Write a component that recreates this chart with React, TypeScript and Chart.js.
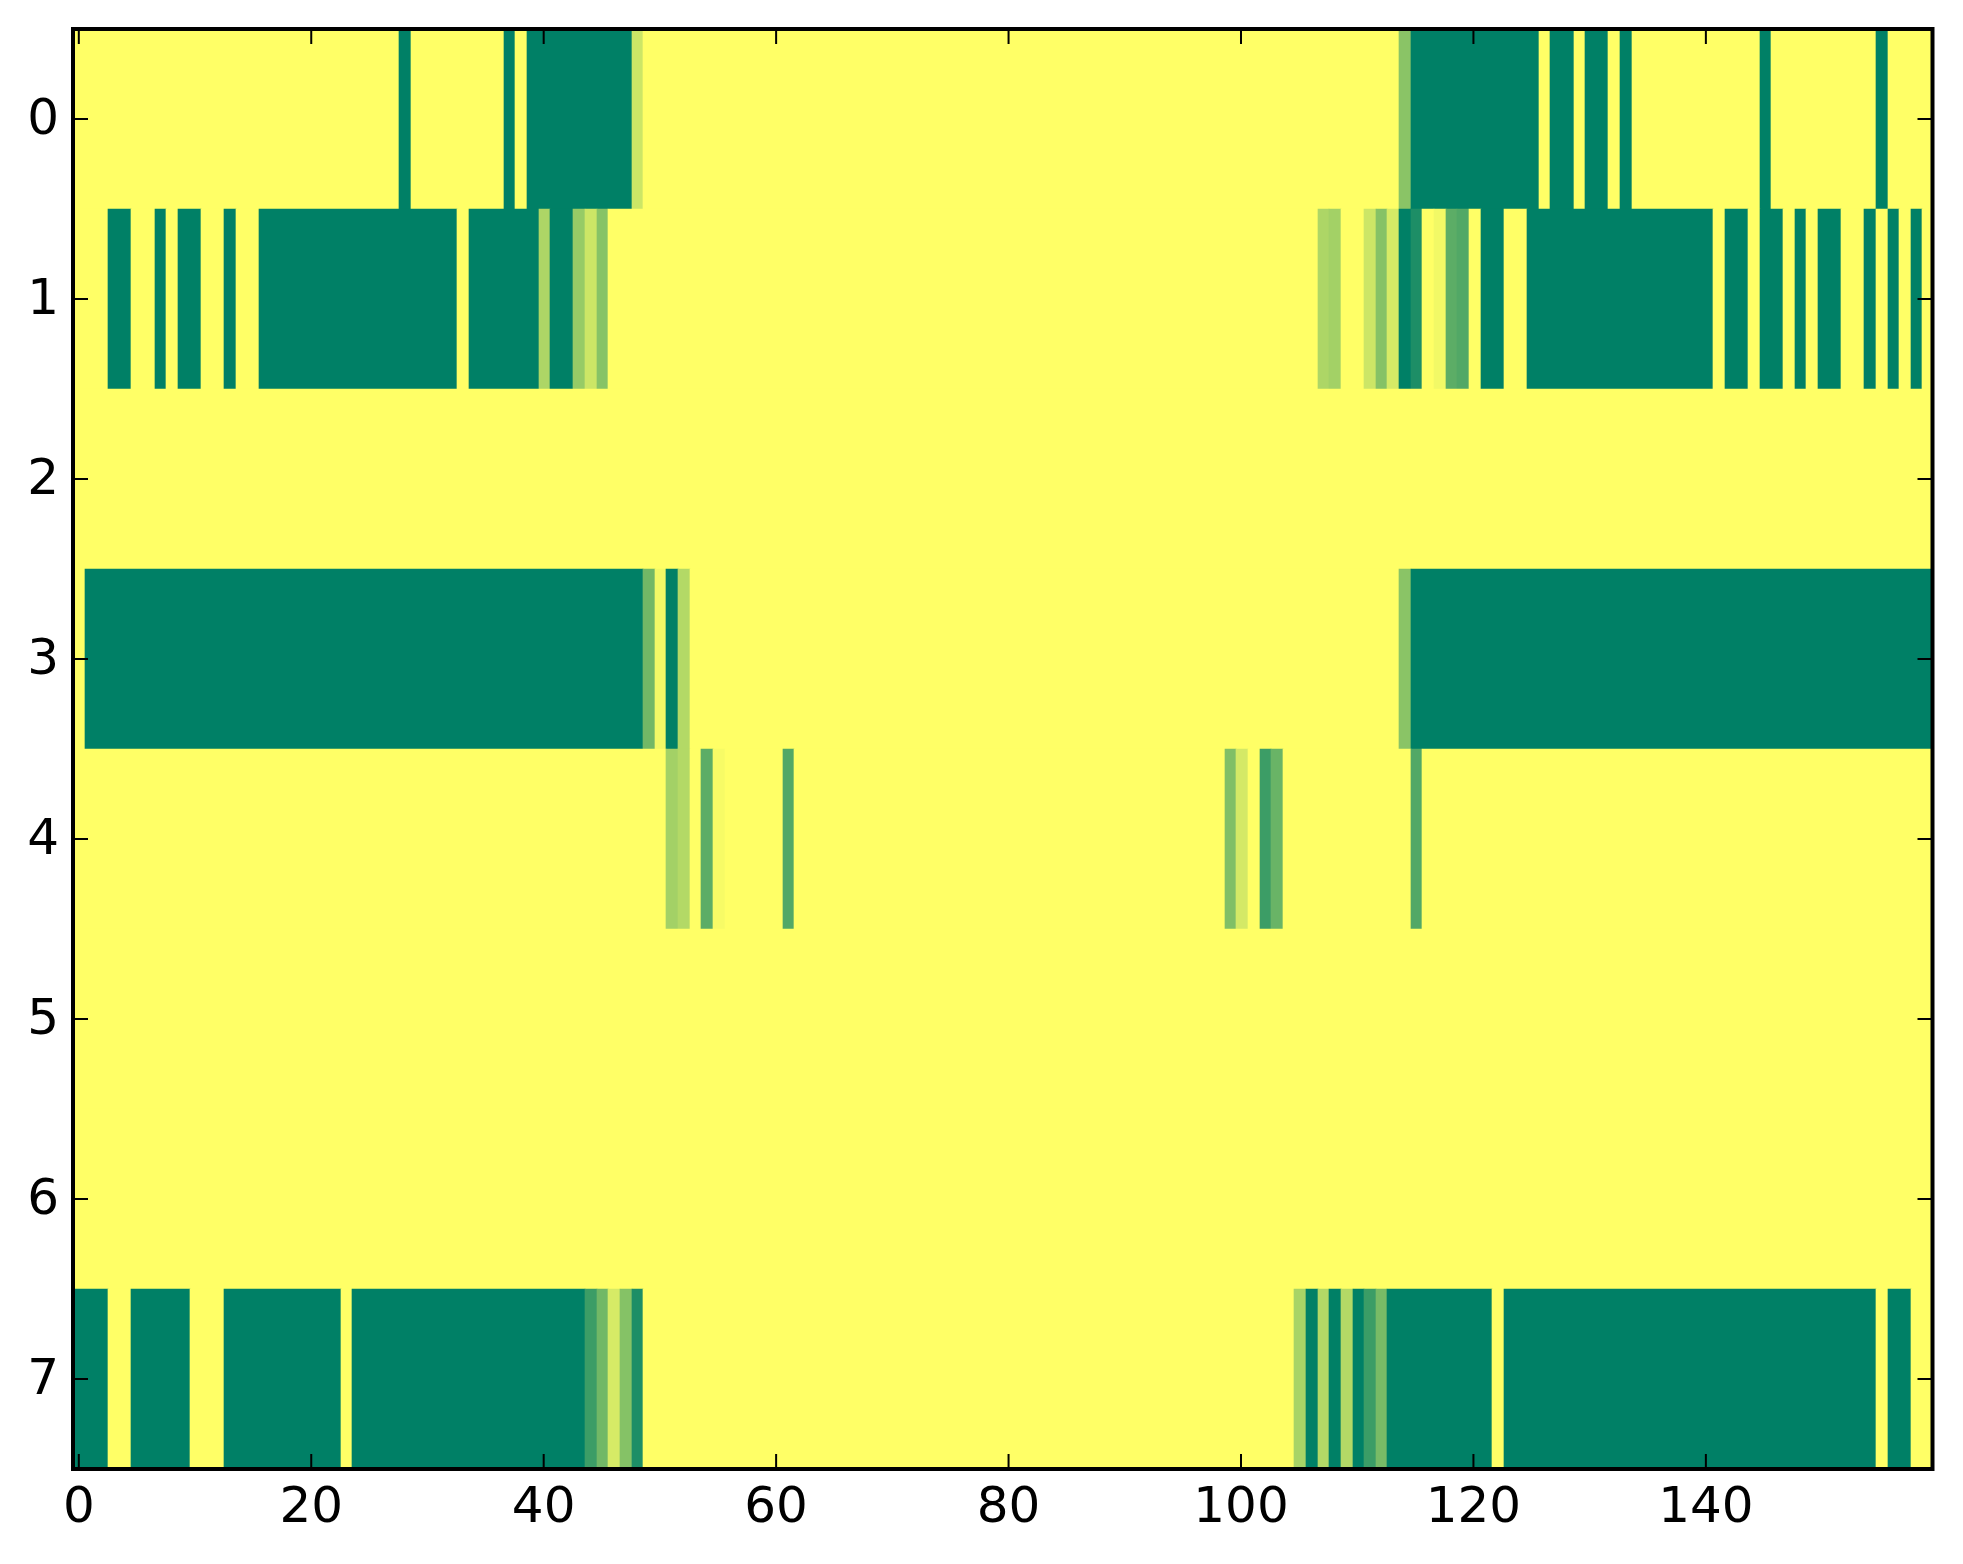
import React, { useEffect, useRef } from "react";
import { Chart, registerables } from "chart.js";

Chart.register(...registerables);

const columnCount = 160;
const xTickValues = [0, 20, 40, 60, 80, 100, 120, 140];
const yTickValues = [0, 1, 2, 3, 4, 5, 6, 7];

// Each run: [first column, last column, value]; every other column of the row is 0.
const row0 = [
  [28, 28, 1], [37, 37, 1], [39, 47, 1], [48, 48, 0.2], [114, 114, 0.46], [115, 125, 1],
  [127, 128, 1], [130, 131, 1], [133, 133, 1], [145, 145, 1], [155, 155, 1],
];
const row1 = [
  [3, 4, 1], [7, 7, 1], [9, 10, 1], [13, 13, 1], [16, 32, 1], [34, 39, 1], [40, 40, 0.32],
  [41, 42, 1], [43, 43, 0.41], [44, 44, 0.2], [45, 45, 0.47], [107, 107, 0.32], [108, 108, 0.36],
  [111, 111, 0.2], [112, 112, 0.48], [113, 113, 0.16], [114, 114, 1], [115, 115, 0.886],
  [117, 117, 0.05], [118, 118, 0.64], [119, 119, 0.68], [121, 122, 1], [125, 140, 1],
  [142, 143, 1], [145, 146, 1], [148, 148, 1], [150, 151, 1], [154, 154, 1], [156, 156, 1], [158, 158, 1],
];
const row2: number[][] = [];
const row3 = [
  [1, 48, 1], [49, 49, 0.553], [50, 50, 0.05], [51, 51, 1], [52, 52, 0.3], [114, 114, 0.46], [115, 159, 1],
];
const row4 = [
  [51, 51, 0.36], [52, 52, 0.3], [54, 54, 0.64], [55, 55, 0.03], [61, 61, 0.68], [99, 99, 0.5],
  [100, 100, 0.17], [102, 102, 0.765], [103, 103, 0.59], [115, 115, 0.68],
];
const row5: number[][] = [];
const row6: number[][] = [];
const row7 = [
  [0, 2, 1], [5, 9, 1], [13, 22, 1], [24, 43, 1], [44, 44, 0.765], [45, 45, 0.553], [46, 46, 0.16],
  [47, 47, 0.48], [48, 48, 0.886], [105, 105, 0.34], [106, 106, 1], [107, 107, 0.3], [108, 108, 1],
  [109, 109, 0.3], [110, 110, 1], [111, 111, 0.77], [112, 112, 0.53], [113, 121, 1], [123, 154, 1], [156, 157, 1],
];
const rows = [row0, row1, row2, row3, row4, row5, row6, row7];

// matplotlib "summer_r" colormap
const summerR = (t: number) =>
  `rgb(${Math.round(255 * (1 - t))},${Math.round(255 * (1 - 0.5 * t))},102)`;

type Bar = { x: [number, number]; y: number; v: number };

const buildBars = (): Bar[] => {
  const bars: Bar[] = [];
  rows.forEach((runs, y) => {
    const cells = new Array(columnCount).fill(0);
    runs.forEach(([a, b, v]) => {
      for (let c = a; c <= b; c++) cells[c] = v;
    });
    let start = 0;
    for (let c = 1; c <= columnCount; c++) {
      if (c === columnCount || cells[c] !== cells[start]) {
        bars.push({ x: [start - 0.5, c - 0.5], y, v: cells[start] });
        start = c;
      }
    }
  });
  return bars;
};

// Image cells land on whole pixels, as a raster image does; the raster is a hair wider than the axes.
const snapBars = {
  id: "snapBars",
  afterDatasetsUpdate(chart: any) {
    const left = chart.chartArea.left;
    const snap = (p: number) => Math.round(p + 0.3 + (p - left) * 0.0007);
    chart.getDatasetMeta(0).data.forEach((el: any) => {
      el.x = snap(el.x);
      el.base = snap(el.base);
    });
  },
};

const frame = {
  id: "frame",
  afterDatasetsDraw(chart: any) {
    const { ctx, chartArea: a, scales } = chart;
    const len = 15;
    ctx.save();
    ctx.strokeStyle = "#000";
    ctx.lineWidth = 2;
    ctx.beginPath();
    xTickValues.forEach((v) => {
      const p = scales.x.getPixelForValue(v);
      ctx.moveTo(p, a.top);
      ctx.lineTo(p, a.top + len);
      ctx.moveTo(p, a.bottom);
      ctx.lineTo(p, a.bottom - len);
    });
    yTickValues.forEach((v) => {
      const p = scales.y.getPixelForValue(v);
      ctx.moveTo(a.left, p);
      ctx.lineTo(a.left + len, p);
      ctx.moveTo(a.right, p);
      ctx.lineTo(a.right - len, p);
    });
    ctx.stroke();
    ctx.lineWidth = 4;
    ctx.lineJoin = "miter";
    ctx.strokeRect(a.left, a.top, a.right - a.left, a.bottom - a.top);
    ctx.restore();
  },
};

const tickFont = { family: "'DejaVu Sans'", size: 50 };

export default function App() {
  const ref = useRef<HTMLCanvasElement | null>(null);
  useEffect(() => {
    if (!ref.current) return;
    const bars = buildBars();
    const chart = new Chart(ref.current, {
      type: "bar",
      data: {
        datasets: [
          {
            data: bars as any,
            backgroundColor: bars.map((b) => summerR(b.v)),
            borderWidth: 0,
            borderSkipped: false,
            barPercentage: 1,
            categoryPercentage: 1,
          },
        ],
      },
      plugins: [snapBars, frame],
      options: {
        indexAxis: "y",
        animation: false,
        responsive: false,
        devicePixelRatio: 1,
        layout: { padding: { top: 29, right: 30.5, left: 0, bottom: 0 } },
        plugins: { legend: { display: false }, tooltip: { enabled: false } },
        scales: {
          x: {
            type: "linear",
            position: "bottom",
            min: -0.5,
            max: 159.5,
            grid: { display: false, drawTicks: false },
            border: { display: false },
            afterBuildTicks: (s: any) => {
              s.ticks = xTickValues.map((value) => ({ value }));
            },
            afterFit: (s: any) => {
              s.height = 95;
              s.paddingLeft = 0;
              s.paddingRight = 0;
            },
            ticks: {
              color: "#000",
              font: tickFont,
              padding: 10,
              maxRotation: 0,
              autoSkip: false,
            },
          },
          y: {
            type: "linear",
            position: "left",
            reverse: true,
            offset: false,
            min: -0.5,
            max: 7.5,
            grid: { display: false, offset: false, drawTicks: false },
            border: { display: false },
            afterBuildTicks: (s: any) => {
              s.ticks = yTickValues.map((value) => ({ value }));
            },
            afterFit: (s: any) => {
              s.width = 73;
              s.paddingTop = 0;
              s.paddingBottom = 0;
            },
            ticks: {
              color: "#000",
              font: tickFont,
              padding: 14,
              labelOffset: 2,
              autoSkip: false,
            },
          },
        },
      } as any,
    });
    return () => chart.destroy();
  }, []);
  return (
    <div style={{ position: "absolute", left: 0, top: 0, width: 1963, height: 1564, background: "#fff" }}>
      <canvas ref={ref} width={1963} height={1564} style={{ display: "block" }} />
    </div>
  );
}
